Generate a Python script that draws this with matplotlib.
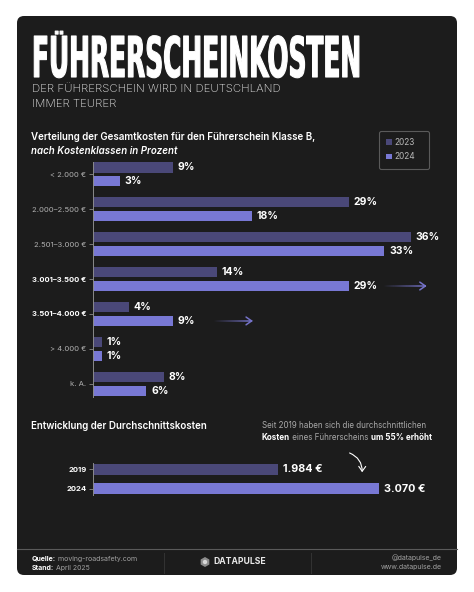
import matplotlib
matplotlib.use("Agg")
import matplotlib.pyplot as plt
import numpy as np
from matplotlib import patheffects
from matplotlib.patches import FancyBboxPatch, RegularPolygon, Circle
from matplotlib.collections import LineCollection
from matplotlib.colors import to_rgba
from matplotlib.path import Path
from matplotlib.transforms import IdentityTransform

plt.rcParams['font.family'] = ['Inter', 'DejaVu Sans']

######## DATA ########
klassen = ["< 2.000 €", "2.000–2.500 €", "2.501–3.000 €", "3.001–3.500 €",
           "3.501–4.000 €", "> 4.000 €", "k. A."]
anteil_2023 = [9, 29, 36, 14, 4, 1, 8]
anteil_2024 = [3, 18, 33, 29, 9, 1, 6]
hervorgehoben = [3, 4]          # bold tick labels
jahre = ["2019", "2024"]
durchschnitt = [1984, 3070]

######## STYLE ########
C23 = '#4a4878'
C24 = '#7878d4'
CARD = '#1c1c1c'
GREY = '#b0b0b0'
W, H = 474, 592


class Stretch(patheffects.AbstractPathEffect):
    """stretch glyphs vertically between baseline y0 and cap height (display px),
    anything above the cap (umlaut dots) is only shifted -> condensed look"""
    def __init__(self, sy, y0, cap, lw=0.0):
        super().__init__()
        self.sy, self.y0, self.cap, self.lw = sy, y0, cap, lw

    def draw_path(self, renderer, gc, tpath, affine, rgbFace=None):
        p = affine.transform_path(tpath)
        v = p.vertices.copy()
        d = v[:, 1] - self.y0
        v[:, 1] = self.y0 + np.minimum(d, self.cap) * self.sy + np.maximum(d - self.cap, 0)
        gc0 = renderer.new_gc()
        gc0.copy_properties(gc)
        gc0.set_linewidth(self.lw)
        if self.lw:
            gc0.set_foreground(rgbFace)
        renderer.draw_path(gc0, Path(v, p.codes), IdentityTransform(), rgbFace)
        gc0.restore()


fig = plt.figure(figsize=(W / 100, H / 100), dpi=100, facecolor='white')

# background axes in pixel coords (top-left origin)
bg = fig.add_axes([0, 0, 1, 1])
bg.set_xlim(0, W)
bg.set_ylim(H, 0)
bg.axis('off')
bg.add_patch(FancyBboxPatch((17, 16), 440, 559, boxstyle="round,pad=0,rounding_size=7",
                            fc=CARD, ec='none'))


def chain(x, y, parts, size):
    """text pieces one after another on one line: (text, color, weight)"""
    t = bg.text(x, y, parts[0][0], color=parts[0][1], weight=parts[0][2],
                size=size, va='bottom', ha='left')
    for s, c, w in parts[1:]:
        t = bg.annotate(s, xy=(1, 0), xycoords=t, color=c, weight=w,
                        size=size, va='bottom', ha='left')
    return t


##################### TITLE
title = bg.text(32, 77, "FÜHRERSCHEINKOSTEN", family='DejaVu Sans', weight='bold',
                size=20, color='white', va='baseline', ha='left')
fig.canvas.draw()
title.set_fontsize(20 * 328 / title.get_window_extent().width)
cap = title.get_fontsize() * 100 / 72 * 0.729
title.set_path_effects([Stretch(41 / cap, H - 77, cap, lw=0.8)])

bg.text(32, 89, "DER FÜHRERSCHEIN WIRD IN DEUTSCHLAND", color='#e6e6e6',
        size=8.2, weight='light', va='center')
bg.text(32, 104, "IMMER TEURER", color='#e6e6e6', size=8.2, weight='light', va='center')

bg.text(31, 137.5, "Verteilung der Gesamtkosten für den Führerschein Klasse B,",
        color='white', size=7, weight='semibold', va='center')
bg.text(31, 150.5, "nach Kostenklassen in Prozent", color='white', size=7,
        weight='semibold', style='italic', va='center')

######## CHART 1: Kostenklassen ########
ax1 = fig.add_axes([93.3 / W, 1 - 396.7 / H, (440 - 93.3) / W, (396.7 - 161.7) / H])
ax1.set_facecolor('none')
y = np.arange(len(klassen))
bh, off = 0.30, 0.20
b23 = ax1.barh(y - off, anteil_2023, height=bh, color=C23, label='2023')
b24 = ax1.barh(y + off, anteil_2024, height=bh, color=C24, label='2024')
for yy, vals in ((y - off, anteil_2023), (y + off, anteil_2024)):
    for v, p in zip(vals, yy):
        ax1.annotate(f"{v}%", (v, p), xytext=(3.5, 0), textcoords='offset points',
                     va='center', ha='left', color='white', weight='bold', size=7.5)

ax1.set_xlim(0, (440 - 93.3) / 8.82)
ax1.set_ylim(6.37, -0.36)
ax1.set_yticks(y)
ax1.set_yticklabels(klassen)
for i, lab in enumerate(ax1.get_yticklabels()):
    if i in hervorgehoben:
        lab.set_color('white')
        lab.set_fontweight('bold')
    else:
        lab.set_color(GREY)
ax1.tick_params(axis='y', length=3, width=0.6, color='#8a8a8a', labelsize=5.5, pad=2)
ax1.set_xticks([])
for s in ('top', 'right', 'bottom'):
    ax1.spines[s].set_visible(False)
ax1.spines['left'].set_color('#8a8a8a')
ax1.spines['left'].set_linewidth(0.7)

# gradient arrows behind the big jumps
for i, x0, x1 in ((3, 32.8, 37.8), (4, 13.6, 18.1)):
    xs = np.linspace(x0, x1 - 0.2, 40)
    segs = [[(xs[k], i + off), (xs[k + 1], i + off)] for k in range(len(xs) - 1)]
    base = np.array(to_rgba('#7472c8'))
    cols = [np.r_[base[:3], a] for a in np.linspace(0.0, 1.0, len(segs))]
    ax1.add_collection(LineCollection(segs, colors=cols, linewidths=1.1))
    ax1.annotate('', xy=(x1, i + off), xytext=(x1 - 0.3, i + off),
                 arrowprops=dict(arrowstyle='->,head_length=0.4,head_width=0.28',
                                 color='#7472c8', lw=1.1))

##################### LEGEND
leg = fig.legend(handles=[b23, b24], loc='upper left',
                 bbox_to_anchor=(379 / W, 1 - 167 / H, 50 / W, 36 / H), mode='expand',
                 fontsize=6, labelcolor='#b8b8b8', handlelength=0.65, handleheight=0.65,
                 handletextpad=0.35, borderpad=0.85, labelspacing=0.65, fancybox=True,
                 frameon=True, borderaxespad=0)
leg.get_frame().set_facecolor('none')
leg.get_frame().set_edgecolor('#6a6a6a')
leg.get_frame().set_linewidth(0.8)

######## CHART 2: Durchschnittskosten ########
bg.text(31, 426, "Entwicklung der Durchschnittskosten", color='white', size=7,
        weight='semibold', va='center')
bg.text(262, 429.5, "Seit 2019 haben sich die durchschnittlichen", color='#a8a8a8',
        size=5.8, va='bottom')
chain(262, 442.5, [("Kosten", 'white', 'bold'),
                   (" eines Führerscheins ", '#a8a8a8', 'normal'),
                   ("um 55% erhöht", 'white', 'bold')], 5.8)
bg.annotate('', xy=(362, 475), xytext=(347, 452),
            arrowprops=dict(arrowstyle='->,head_length=0.35,head_width=0.25', color='white',
                            lw=0.8, connectionstyle='arc3,rad=-0.4'))

ax2 = fig.add_axes([93.3 / W, 1 - 495 / H, (440 - 93.3) / W, 32 / H])
ax2.set_facecolor('none')
y2 = np.arange(len(jahre))
ax2.barh(y2, durchschnitt, height=0.56, color=[C23, C24])
for v, p in zip(durchschnitt, y2):
    ax2.annotate(f"{v:,}".replace(',', '.') + " €", (v, p), xytext=(3.8, 0),
                 textcoords='offset points', va='center', ha='left', color='white',
                 weight='bold', size=7.8)
ax2.set_xlim(0, (440 - 93.3) / 0.09294)
ax2.set_ylim(1.318, -0.323)
ax2.set_yticks(y2)
ax2.set_yticklabels(jahre, color='white', weight='bold')
ax2.tick_params(axis='y', length=3, width=0.6, color='#8a8a8a', labelsize=5.5, pad=2)
ax2.set_xticks([])
for s in ('top', 'right', 'bottom'):
    ax2.spines[s].set_visible(False)
ax2.spines['left'].set_color('#8a8a8a')
ax2.spines['left'].set_linewidth(0.7)

##################### FOOTER
bg.plot([17, 457], [549, 549], color='#5a5a5a', lw=0.8)
for xv in (164, 311):
    bg.plot([xv, xv], [553, 573], color='#333333', lw=0.7)
chain(32, 561.5, [("Quelle:", 'white', 'bold'), (" moving-roadsafety.com", '#a0a0a0', 'normal')], 5)
chain(32, 571, [("Stand:", 'white', 'bold'), (" April 2025", '#a0a0a0', 'normal')], 5)
bg.text(442, 558, "@datapulse_de", color='#a0a0a0', size=5, ha='right', va='center')
bg.text(442, 567.5, "www.datapulse.de", color='#a0a0a0', size=5, ha='right', va='center')

bg.add_patch(RegularPolygon((205, 562), 6, radius=5, fc='#8c8c8c', ec='none'))
bg.add_patch(Circle((205, 562), 2.2, fc='#d8d8d8', ec='none'))
bg.text(213, 562, "DATAPULSE", color='#e8e8e8', size=6.2, weight='bold', va='center', ha='left')

##################### SAVE
plt.savefig("out.png", dpi=100, facecolor='white')
